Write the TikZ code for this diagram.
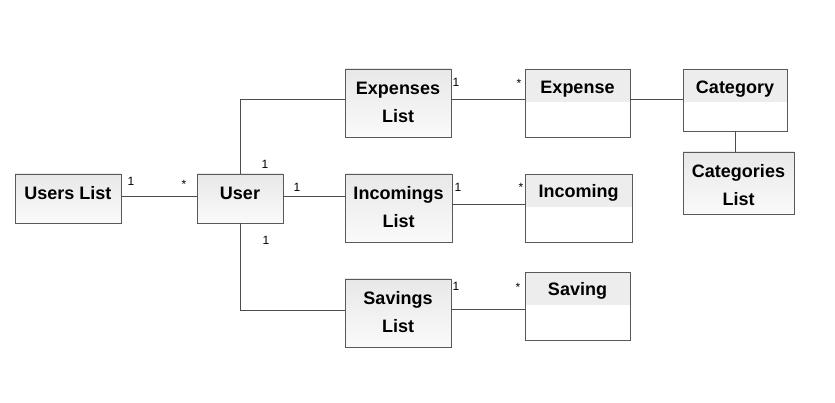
\documentclass[tikz,border=0pt]{standalone}
\usepackage{fontspec}
\setmainfont{Liberation Sans}
\begin{document}
\begin{tikzpicture}[x=1pt,y=-1pt]
    \tikzset{uml box/.style={draw=black!65,line width=0.9pt,rectangle,inner sep=0pt,outer sep=0pt,minimum width=#1},
      list box/.style={uml box=#1,top color=black!9,bottom color=black!2},
      class box/.style={uml box=#1,fill=white,path picture={\fill[black!7] (path picture bounding box.north west) rectangle ([yshift=-33pt]path picture bounding box.north east);}},
      box text/.style={font=\fontsize{18}{28}\selectfont\bfseries,align=center,inner sep=0pt},
      mult/.style={font=\fontsize{12}{12}\selectfont,inner sep=0pt},
      assoc/.style={draw=black!70,line width=0.8pt}}
    \useasboundingbox (0,0) rectangle (835,403);

    \node [list box=106pt,minimum height=49pt] (UL) at (68,198.5) {};
    \node [list box=86pt,minimum height=49pt] (U) at (240,198.5) {};
    \node [list box=106pt,minimum height=68pt] (EL) at (398,103) {};
    \node [list box=107pt,minimum height=68pt] (IL) at (398.5,208) {};
    \node [list box=106pt,minimum height=68pt] (SL) at (398,313) {};
    \node [class box=105pt,minimum height=68pt] (E) at (577.5,103) {};
    \node [class box=107pt,minimum height=68pt] (I) at (578.5,208) {};
    \node [class box=105pt,minimum height=68pt] (S) at (577.5,306) {};
    \node [class box=104pt,minimum height=62pt] (C) at (735,100) {};
    \node [list box=111pt,minimum height=62pt] (CL) at (738.5,183) {};

    \node [box text] (UL-name) at ([yshift=-19pt]UL.north) {Users List};
    \node [box text] (U-name) at ([yshift=-19pt]U.north) {User};
    \node [box text] (EL-name) at ([yshift=-33pt]EL.north) {Expenses\\List};
    \node [box text] (IL-name) at ([yshift=-33pt]IL.north) {Incomings\\List};
    \node [box text] (SL-name) at ([yshift=-33pt]SL.north) {Savings\\List};
    \node [box text] (E-name) at ([yshift=-20pt]E.north) {Expense};
    \node [box text] (I-name) at ([yshift=-19pt]I.north) {Incoming};
    \node [box text] (S-name) at ([yshift=-19pt]S.north) {Saving};
    \node [box text] (C-name) at ([yshift=-20pt]C.north) {Category};
    \node [box text] (CL-name) at ([yshift=-33pt]CL.north) {Categories\\List};

    \draw [assoc] ([yshift=2pt]UL.east) -- ([yshift=2pt]U.west);
    \draw [assoc] (U.north) |- ([yshift=4pt]EL.west);
    \draw [assoc] ([yshift=2pt]U.east) -- ([yshift=2pt]U.east -| IL.west);
    \draw [assoc] (U.south) |- ([yshift=3pt]SL.west);
    \draw [assoc] ([yshift=4pt]EL.east) -- ([yshift=4pt]E.west);
    \draw [assoc] ([yshift=4pt]IL.east) -- ([yshift=4pt]I.west);
    \draw [assoc] ([yshift=4pt]SL.east) -- ([yshift=4pt]SL.east -| S.west);
    \draw [assoc] ([yshift=4pt]E.east) -- ([yshift=4pt]E.east -| C.west);
    \draw [assoc] (C.south) -- (C.south |- CL.north);

    \node [mult] (UL-1) at (131,181) {1};
    \node [mult] (U-star) at (184,184) {*};
    \node [mult] (U-1-top) at (265,164) {1};
    \node [mult] (U-1-right) at (297,187) {1};
    \node [mult] (U-1-bottom) at (266,240) {1};
    \node [mult] (EL-1) at (456,82) {1};
    \node [mult] (E-star) at (519,83) {*};
    \node [mult] (IL-1) at (458,187) {1};
    \node [mult] (I-star) at (521,187) {*};
    \node [mult] (SL-1) at (456,286) {1};
    \node [mult] (S-star) at (518,287) {*};
  \end{tikzpicture}
\end{document}
